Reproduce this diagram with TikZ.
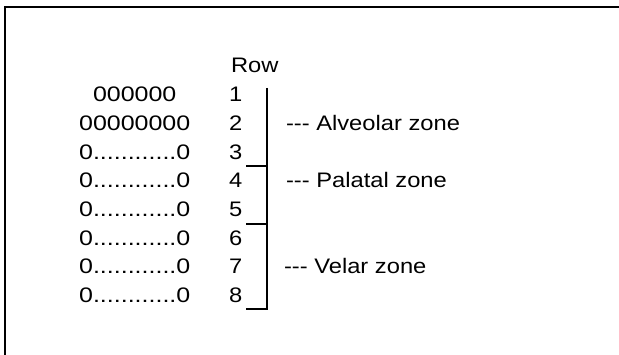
\documentclass[tikz,border=0pt]{standalone}
\usepackage{fontspec}
\setmainfont[FakeStretch=1.13]{Liberation Sans}
\newfontfamily\widefont[FakeStretch=1.19]{Liberation Sans}
\begin{document}
\begin{tikzpicture}[x=1pt,y=-1pt,
  txt/.style={inner sep=0pt,outer sep=0pt,font=\fontsize{21}{25}\selectfont},
  lft/.style={inner sep=0pt,outer sep=0pt,font=\widefont\fontsize{21}{25}\selectfont,anchor=base},
  num/.style={txt,anchor=base west},
  frame/.style={line width=2pt},
  brk/.style={line width=1.6pt}]
\useasboundingbox (0,0) rectangle (619,355);
% open frame
\coordinate (fbl) at (5,356);
\coordinate (ftl) at (5,7);
\coordinate (ftr) at (620,7);
\draw[frame] (fbl) -- (ftl) -- (ftr);
% header
\node[num] (row) at (231,72.7) {Row};
% left column
\node[lft] (l1) at (134.7,101.7) {000000};
\node[lft] (l2) at (134.7,130.4) {00000000};
\node[lft] (l3) at (134.7,159.1) {0............0};
\node[lft] (l4) at (134.7,187.8) {0............0};
\node[lft] (l5) at (134.7,216.5) {0............0};
\node[lft] (l6) at (134.7,245.2) {0............0};
\node[lft] (l7) at (134.7,273.9) {0............0};
\node[lft] (l8) at (134.7,302.6) {0............0};
% numbers
\node[num] (n1) at (229,101.7) {1};
\node[num] (n2) at (229,130.4) {2};
\node[num] (n3) at (229,159.1) {3};
\node[num] (n4) at (229,187.8) {4};
\node[num] (n5) at (229,216.5) {5};
\node[num] (n6) at (229,245.2) {6};
\node[num] (n7) at (229,273.9) {7};
\node[num] (n8) at (229,302.6) {8};
% bracket
\coordinate (vt) at (267,88);
\coordinate (vb) at (267,309);
\coordinate (t1r) at (267,166);
\coordinate (t1l) at (246,166);
\coordinate (t2r) at (267,224);
\coordinate (t2l) at (246,224);
\coordinate (t3l) at (246,309);
\draw[brk] (vt) -- (vb) -- (t3l);
\draw[brk] (t1l) -- (t1r);
\draw[brk] (t2l) -- (t2r);
% zone labels
\node[num] (za) at (286,130.4) {-{}-{}- Alveolar zone};
\node[num] (zp) at (286,187.8) {-{}-{}- Palatal zone};
\node[num] (zv) at (284,273.9) {-{}-{}- Velar zone};
\end{tikzpicture}
\end{document}
